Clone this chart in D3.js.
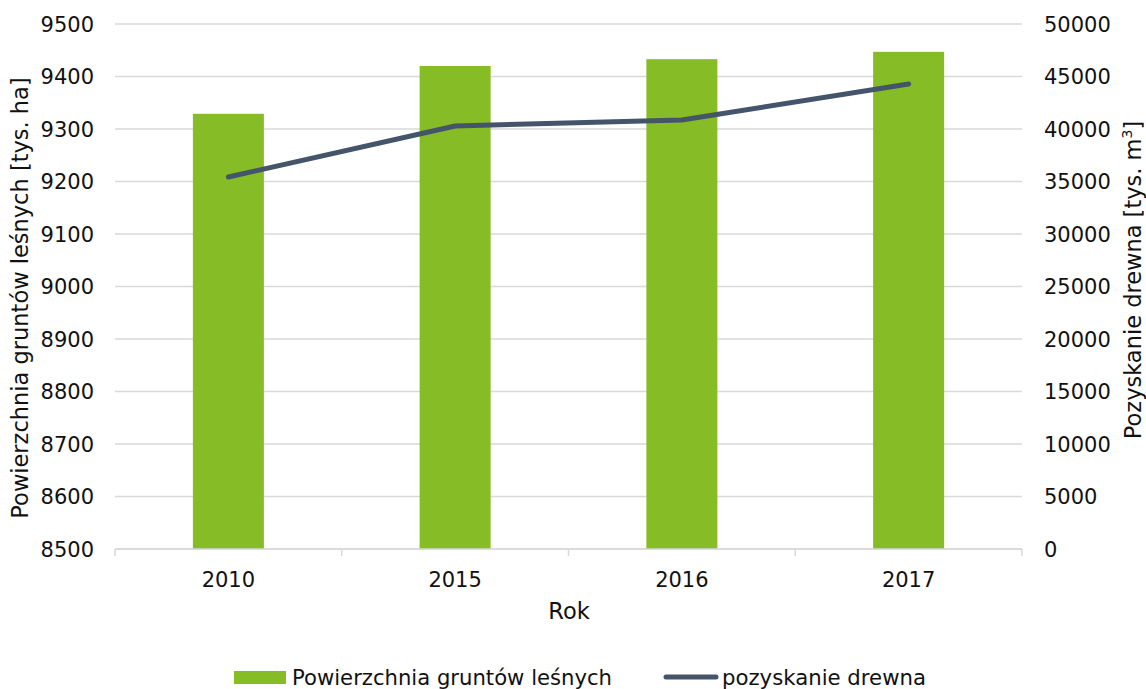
<!DOCTYPE html>
<html>
<head>
<meta charset="utf-8">
<script src="https://cdn.jsdelivr.net/npm/d3@7"></script>
<style>
  body { margin: 0; background: #fff; }
  svg text { font-family: "DejaVu Sans", Verdana, sans-serif; fill: #111; }
</style>
</head>
<body>
<svg width="1146" height="689"></svg>
<script>
// data
var years = ["2010", "2015", "2016", "2017"];
var forestArea = [9329, 9420, 9433, 9447];       // tys. ha (left axis)
var timberHarvest = [35430, 40290, 40860, 44290]; // tys. m3 (right axis)
var leftTicks = [8500, 8600, 8700, 8800, 8900, 9000, 9100, 9200, 9300, 9400, 9500];
var rightTicks = [0, 5000, 10000, 15000, 20000, 25000, 30000, 35000, 40000, 45000, 50000];

var svg = d3.select("svg");

var pLeft = 115, pRight = 1022, pTop = 24, pBottom = 549;

var x = d3.scaleBand()
    .domain(years)
    .range([pLeft, pRight]);

var yL = d3.scaleLinear()
    .domain([8500, 9500])
    .range([pBottom, pTop]);

var yR = d3.scaleLinear()
    .domain([0, 50000])
    .range([pBottom, pTop]);

// gridlines
svg.append("g")
    .selectAll("line")
    .data(leftTicks)
    .enter()
    .append("line")
    .attr("x1", pLeft)
    .attr("x2", pRight)
    .attr("y1", function(d) { return yL(d); })
    .attr("y2", function(d) { return yL(d); })
    .attr("stroke", "#d9d9d9")
    .attr("stroke-width", 1.5);

// bars
var barW = 71;
svg.append("g")
    .selectAll("rect")
    .data(forestArea)
    .enter()
    .append("rect")
    .attr("x", function(d, i) { return x(years[i]) + x.bandwidth() / 2 - barW / 2; })
    .attr("y", function(d) { return yL(d); })
    .attr("width", barW)
    .attr("height", function(d) { return pBottom - yL(d); })
    .attr("fill", "#86bc25");

// line
var line = d3.line()
    .x(function(d, i) { return x(years[i]) + x.bandwidth() / 2; })
    .y(function(d) { return yR(d); });

svg.append("path")
    .datum(timberHarvest)
    .attr("d", line)
    .attr("fill", "none")
    .attr("stroke", "#44546a")
    .attr("stroke-width", 5)
    .attr("stroke-linecap", "round")
    .attr("stroke-linejoin", "round");

// x axis
var xAxis = svg.append("g")
    .attr("transform", "translate(0," + pBottom + ")");
xAxis.append("line")
    .attr("x1", pLeft).attr("x2", pRight)
    .attr("stroke", "#d9d9d9").attr("stroke-width", 1.5);
xAxis.selectAll(".tk")
    .data(years.concat(["end"]))
    .enter()
    .append("line")
    .attr("x1", function(d, i) { return i < years.length ? x(d) : pRight; })
    .attr("x2", function(d, i) { return i < years.length ? x(d) : pRight; })
    .attr("y1", 0).attr("y2", 7)
    .attr("stroke", "#d9d9d9").attr("stroke-width", 1.5);
xAxis.selectAll("text")
    .data(years)
    .enter()
    .append("text")
    .attr("x", function(d) { return x(d) + x.bandwidth() / 2; })
    .attr("y", 38)
    .attr("text-anchor", "middle")
    .style("font-size", "21px")
    .text(function(d) { return d; });

// left axis labels
svg.append("g")
    .selectAll("text")
    .data(leftTicks)
    .enter()
    .append("text")
    .attr("x", 94)
    .attr("y", function(d) { return yL(d) + 7.5; })
    .attr("text-anchor", "end")
    .style("font-size", "21px")
    .text(function(d) { return d; });

// right axis labels
svg.append("g")
    .selectAll("text")
    .data(rightTicks)
    .enter()
    .append("text")
    .attr("x", 1044)
    .attr("y", function(d) { return yR(d) + 7.5; })
    .attr("text-anchor", "start")
    .style("font-size", "21px")
    .text(function(d) { return d; });

// axis titles
svg.append("text")
    .attr("transform", "translate(28,298) rotate(-90)")
    .attr("text-anchor", "middle")
    .style("font-size", "22.5px")
    .text("Powierzchnia gruntów leśnych [tys. ha]");

var rt = svg.append("text")
    .attr("transform", "translate(1141,280) rotate(-90)")
    .attr("text-anchor", "middle")
    .style("font-size", "22.5px");
rt.append("tspan").text("Pozyskanie drewna [tys. m");
rt.append("tspan").attr("dy", -9).style("font-size", "14px").text("3");
rt.append("tspan").attr("dy", 9).text("]");

svg.append("text")
    .attr("x", 569)
    .attr("y", 619)
    .attr("text-anchor", "middle")
    .style("font-size", "22.5px")
    .text("Rok");

// legend
var lg = svg.append("g");
lg.append("rect")
    .attr("x", 234).attr("y", 671).attr("width", 52).attr("height", 13)
    .attr("fill", "#86bc25");
lg.append("text")
    .attr("x", 292).attr("y", 685)
    .style("font-size", "21px")
    .attr("textLength", 320)
    .attr("lengthAdjust", "spacingAndGlyphs")
    .text("Powierzchnia gruntów leśnych");
lg.append("line")
    .attr("x1", 666).attr("x2", 716).attr("y1", 677).attr("y2", 677)
    .attr("stroke", "#44546a").attr("stroke-width", 5).attr("stroke-linecap", "round");
lg.append("text")
    .attr("x", 722).attr("y", 685)
    .style("font-size", "21px")
    .attr("textLength", 204)
    .attr("lengthAdjust", "spacingAndGlyphs")
    .text("pozyskanie drewna");
</script>
</body>
</html>
